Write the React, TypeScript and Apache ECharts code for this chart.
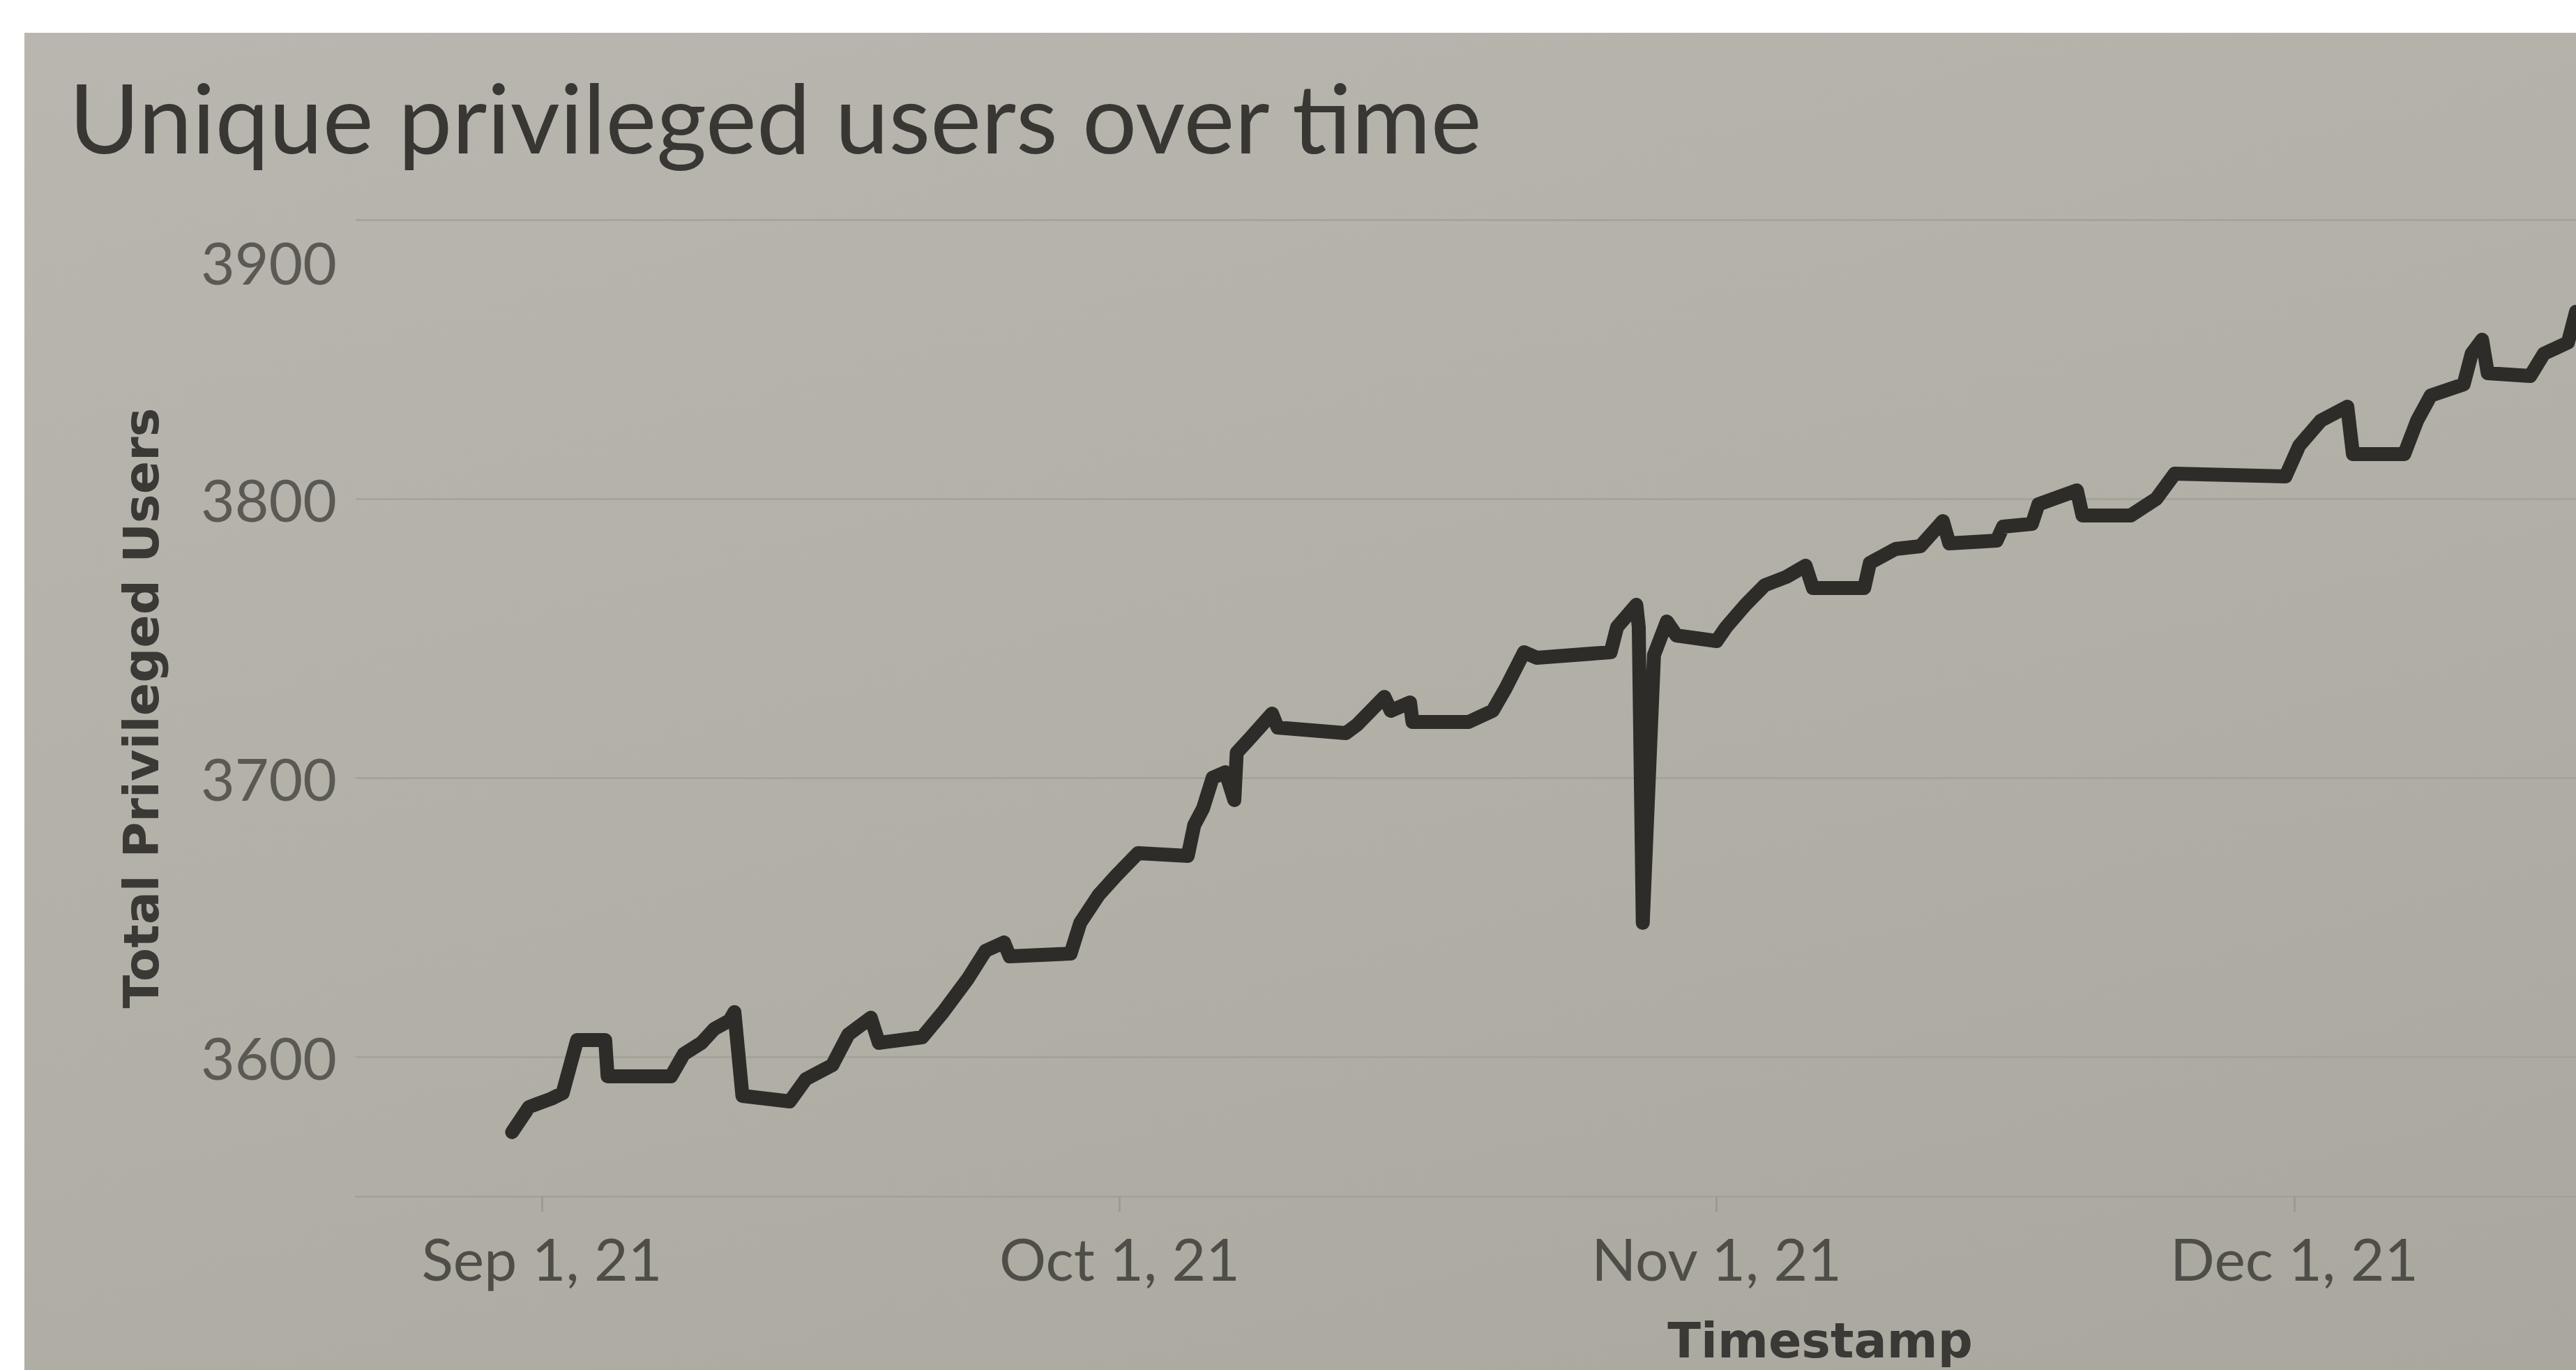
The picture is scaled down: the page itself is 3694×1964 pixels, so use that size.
import React, { useEffect, useRef } from 'react';
import * as echarts from 'echarts';

const titleText = 'Unique privileged users over time';
const yAxisTitle = 'Total Privileged Users';
const xAxisTitle = 'Timestamp';

const timestamps = [
  '2021-08-30 11:00', '2021-08-31 08:00', '2021-09-01 12:00', '2021-09-02 02:00', '2021-09-02 20:00',
  '2021-09-04 07:00', '2021-09-04 10:00', '2021-09-07 17:00', '2021-09-08 09:00', '2021-09-09 07:00',
  '2021-09-09 23:00', '2021-09-10 18:00', '2021-09-11 00:00', '2021-09-11 10:00',
  '2021-09-13 21:00', '2021-09-14 17:00', '2021-09-16 02:00', '2021-09-16 22:00', '2021-09-18 02:00',
  '2021-09-18 12:00', '2021-09-20 18:00', '2021-09-21 20:00', '2021-09-23 03:00', '2021-09-24 01:00',
  '2021-09-25 00:00', '2021-09-25 07:00', '2021-09-28 11:00', '2021-09-28 23:00', '2021-09-29 22:00',
  '2021-09-30 20:00', '2021-10-01 23:00', '2021-10-04 13:00', '2021-10-04 21:00', '2021-10-05 08:00',
  '2021-10-05 20:00', '2021-10-06 12:00', '2021-10-06 23:00', '2021-10-07 02:00', '2021-10-07 18:00',
  '2021-10-08 22:00', '2021-10-09 05:00', '2021-10-12 18:00', '2021-10-13 08:00', '2021-10-14 18:00',
  '2021-10-15 02:00', '2021-10-16 02:00', '2021-10-16 05:00', '2021-10-19 03:00', '2021-10-20 09:00',
  '2021-10-21 01:00', '2021-10-22 00:00', '2021-10-22 16:00', '2021-10-26 12:00', '2021-10-26 20:00',
  '2021-10-27 20:00', '2021-10-27 23:00', '2021-10-28 04:00', '2021-10-28 18:00', '2021-10-29 10:00',
  '2021-10-29 22:00', '2021-11-01 00:00', '2021-11-01 12:00', '2021-11-02 12:00', '2021-11-03 12:00',
  '2021-11-04 15:00', '2021-11-05 15:00', '2021-11-06 00:00', '2021-11-08 16:00', '2021-11-08 23:00',
  '2021-11-10 07:00', '2021-11-11 14:00', '2021-11-12 18:00', '2021-11-13 02:00', '2021-11-15 13:00',
  '2021-11-15 21:00', '2021-11-17 09:00', '2021-11-17 17:00', '2021-11-19 17:00', '2021-11-20 00:00',
  '2021-11-22 12:00', '2021-11-23 20:00', '2021-11-24 19:00', '2021-11-30 13:00', '2021-12-01 06:00',
  '2021-12-02 09:00', '2021-12-03 18:00', '2021-12-04 01:00', '2021-12-06 17:00', '2021-12-07 09:00',
  '2021-12-08 02:00', '2021-12-09 19:00', '2021-12-10 05:00', '2021-12-10 18:00', '2021-12-11 01:00',
  '2021-12-13 06:00', '2021-12-13 23:00', '2021-12-15 05:00', '2021-12-15 15:00',
];

const userCounts = [
  3573, 3582, 3585, 3587, 3606,
  3606, 3593, 3593, 3601, 3605,
  3610, 3613, 3616, 3586,
  3584, 3592, 3597, 3608, 3614,
  3605, 3607, 3616, 3628, 3638,
  3641, 3636, 3637, 3648, 3658,
  3665, 3673, 3672, 3683, 3689,
  3700, 3702, 3692, 3709, 3714,
  3723, 3718, 3716, 3719, 3729,
  3724, 3727, 3720, 3720, 3724,
  3732, 3745, 3743, 3745, 3754,
  3762, 3754, 3648, 3744, 3756,
  3751, 3749, 3754, 3762, 3769,
  3772, 3776, 3768, 3768, 3777,
  3782, 3783, 3792, 3784, 3785,
  3790, 3791, 3798, 3803, 3794,
  3794, 3800, 3809, 3808, 3819,
  3828, 3833, 3816, 3816, 3828,
  3837, 3841, 3852, 3857, 3845,
  3844, 3852, 3856, 3867,
];

const yTickValues = [3600, 3700, 3800, 3900];
const yMin = 3550;
const yMax = 3900;
const yStep = 50;

const xTickDates = ['2021-09-01', '2021-10-01', '2021-11-01', '2021-12-01'];
const xTickLabels = ['Sep 1, 21', 'Oct 1, 21', 'Nov 1, 21', 'Dec 1, 21'];
const xStart = '2021-08-22 08:00';
const xEnd = '2021-12-15 15:00';

function parseLocal(s: string): number {
  const [datePart, timePart] = s.split(' ');
  const [y, m, d] = datePart.split('-').map(Number);
  let hh = 0;
  let mm = 0;
  if (timePart) {
    const t = timePart.split(':').map(Number);
    hh = t[0];
    mm = t[1];
  }
  return new Date(y, m - 1, d, hh, mm).getTime();
}

const FONT = 'Lato';
const BOLD_FONT = 'DejaVu Sans';

export default function App() {
  const ref = useRef<HTMLDivElement>(null);

  useEffect(() => {
    if (!ref.current) return;
    const chart = echarts.init(ref.current, null, { renderer: 'svg' });
    const xTickValues = xTickDates.map(parseLocal);
    const seriesData = timestamps.map((t, i) => [parseLocal(t), userCounts[i]]);

    chart.setOption({
      animation: false,
      title: {
        text: titleText,
        left: 64,
        top: 50,
        padding: 0,
        textStyle: {
          fontFamily: FONT,
          fontSize: 138,
          lineHeight: 138,
          fontWeight: 'normal',
          color: '#383734',
        },
      },
      grid: { left: 475, right: 0, top: 268, bottom: 249, outerBoundsMode: 'none' },
      xAxis: {
        type: 'value',
        min: parseLocal(xStart),
        max: parseLocal(xEnd),
        splitLine: { show: false },
        axisLine: { show: true, lineStyle: { color: '#a3a098', width: 2.5 } },
        axisTick: {
          show: true,
          customValues: xTickValues,
          length: 22,
          lineStyle: { color: '#9a978f', width: 2.5 },
        },
        axisLabel: {
          customValues: xTickValues,
          margin: 46,
          fontFamily: FONT,
          fontSize: 84,
          color: '#4f4d48',
          hideOverlap: false,
          formatter: (v: number) => {
            let best = -1;
            for (let i = 0; i < xTickValues.length; i++) {
              if (Math.abs(xTickValues[i] - v) < 3600000) best = i;
            }
            return best >= 0 ? xTickLabels[best] : '';
          },
        },
        name: xAxisTitle,
        nameLocation: 'middle',
        nameGap: 172,
        nameTextStyle: {
          fontFamily: BOLD_FONT,
          fontSize: 70,
          fontWeight: 'bold',
          color: '#3a3935',
          padding: [0, 0, 0, 1016],
        },
      },
      yAxis: {
        type: 'value',
        min: yMin,
        max: yMax,
        interval: yStep,
        axisLine: { show: false },
        axisTick: { show: false },
        splitLine: {
          show: true,
          lineStyle: { color: ['rgba(0,0,0,0)', '#a4a199'], width: 2.5 },
        },
        axisLabel: {
          margin: 27,
          fontFamily: FONT,
          fontSize: 84,
          color: '#5b5953',
          formatter: (v: number) => {
            if (v === yMax) return `{top|${v}}`;
            return yTickValues.indexOf(v) >= 0 ? String(v) : '';
          },
          rich: {
            top: {
              padding: [120, 0, 0, 0],
              fontFamily: FONT,
              fontSize: 84,
              color: '#5b5953',
            },
          },
        },
        name: yAxisTitle,
        nameLocation: 'middle',
        nameGap: 272,
        nameRotate: 90,
        nameTextStyle: {
          fontFamily: BOLD_FONT,
          fontSize: 70,
          fontWeight: 'bold',
          color: '#3a3935',
        },
      },
      series: [
        {
          type: 'line',
          data: seriesData,
          showSymbol: false,
          symbol: 'none',
          clip: true,
          lineStyle: { color: '#2d2c29', width: 20, cap: 'round', join: 'round' },
        },
      ],
    });

    return () => chart.dispose();
  }, []);

  return (
    <div
      style={{
        position: 'fixed',
        left: 0,
        top: 0,
        width: 3694,
        height: 1964,
        background: '#ffffff',
        overflow: 'hidden',
      }}
    >
      <div
        ref={ref}
        style={{
          position: 'absolute',
          left: 35,
          top: 47,
          width: 3659,
          height: 1917,
          background: 'linear-gradient(165deg, #b9b6af 0%, #b2afa7 55%, #aaa79f 100%)',
        }}
      />
    </div>
  );
}
